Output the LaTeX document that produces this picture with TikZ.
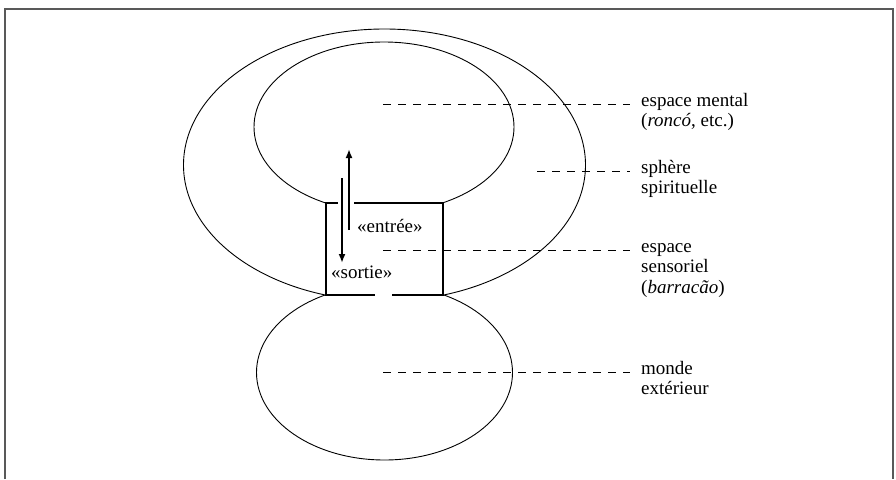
\documentclass[tikz,border=0pt]{standalone}
\usepackage{fontspec}
\setmainfont{Liberation Serif}
\usetikzlibrary{arrows.meta}
\begin{document}
\begin{tikzpicture}[x=1pt,y=-1pt,
  thinline/.style={line width=0.9pt},
  boxline/.style={line width=2.4pt, line join=miter, line cap=rect},
  arrowline/.style={line width=2pt, -{Latex[length=9pt,width=7pt]}},
  dashline/.style={line width=1pt, dash pattern=on 8pt off 7pt},
  lbl/.style={anchor=base west, inner sep=0pt, align=left, font=\fontsize{19}{20.6}\selectfont},
  frameline/.style={line width=1.4pt, draw=black!65}]
\useasboundingbox (0,0) rectangle (896,479);
% frame
\draw[frameline] (5,479) -- (5,9) -- (893,9) -- (893,479);
% outer ellipse (sphere spirituelle)
\begin{scope}
  \clip (0,0) rectangle (896,295);
  \draw[thinline] (384.5,165) ellipse[x radius=201pt, y radius=136pt];
\end{scope}
% inner ellipse (espace mental)
\begin{scope}
  \clip (0,0) rectangle (896,203);
  \draw[thinline] (384,127) ellipse[x radius=130pt, y radius=85pt];
\end{scope}
% lower ellipse (monde exterieur)
\begin{scope}
  \clip (0,295) rectangle (896,479);
  \draw[thinline] (384.5,372.5) ellipse[x radius=128pt, y radius=87.5pt];
\end{scope}
% box (espace sensoriel)
\draw[boxline] (337,203) -- (326,203) -- (326,295) -- (374,295);
\draw[boxline] (355,203) -- (443,203) -- (443,295) -- (393,295);
% arrows
\coordinate (upS) at (349,230);
\coordinate (upE) at (349,149);
\coordinate (dnS) at (342,178);
\coordinate (dnE) at (342,263);
\draw[arrowline] (upS) -- (upE);
\draw[arrowline] (dnS) -- (dnE);
\node[lbl] (entree) at (357,232) {«entrée»};
\node[lbl] (sortie) at (331,278) {«sortie»};
% labels (anchored at the baseline of their last line)
\node[lbl] (em) at (641,126.6) {espace mental\\(\textit{roncó}, etc.)};
\node[lbl] (sp) at (641,193.6) {sphère\\spirituelle};
\node[lbl] (es) at (641,293.4) {espace\\sensoriel\\(\textit{barracão})};
\node[lbl] (mo) at (641,394.6) {monde\\extérieur};
% dashed leaders
\coordinate (dem) at (383,104.5);
\coordinate (dsp) at (537,171.5);
\coordinate (des) at (383,250.5);
\coordinate (dmo) at (383,372.5);
\draw[dashline] (dem) -- (dem -| 630,0);
\draw[dashline] (dsp) -- (dsp -| 630,0);
\draw[dashline] (des) -- (des -| 630,0);
\draw[dashline] (dmo) -- (dmo -| 630,0);
\end{tikzpicture}
\end{document}
